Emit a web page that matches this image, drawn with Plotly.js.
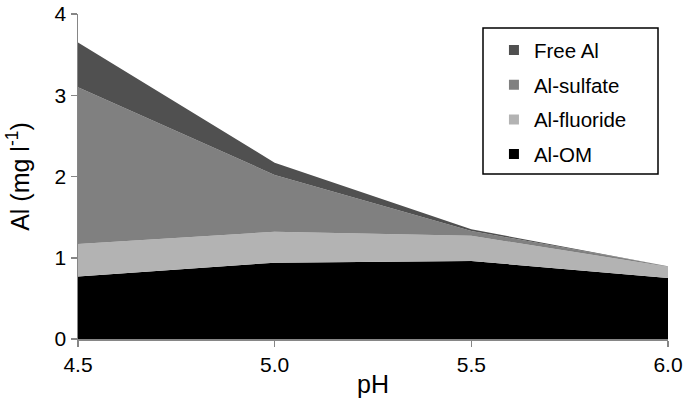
<!DOCTYPE html>
<html>
<head>
<meta charset="utf-8">
<script src="https://cdn.plot.ly/plotly-3.0.1.min.js"></script>
<style>html,body{margin:0;padding:0;background:#fff;}#chart{width:685px;height:411px;}</style>
</head>
<body>
<div id="chart"></div>
<script>
const pH = [4.5, 5.0, 5.5, 6.0];
const alOM = [0.77, 0.94, 0.96, 0.75];
const alFluoride = [0.40, 0.38, 0.31, 0.14];
const alSulfate = [1.93, 0.70, 0.06, 0.005];
const freeAl = [0.55, 0.15, 0.02, 0.0];
const seriesNames = ['Al-OM', 'Al-fluoride', 'Al-sulfate', 'Free Al'];
const seriesColors = ['#000000', '#b3b3b3', '#808080', '#505050'];
const xTicks = [4.5, 5.0, 5.5, 6.0];
const xTickLabels = ['4.5', '5.0', '5.5', '6.0'];
const yTicks = [0, 1, 2, 3, 4];

const seriesData = [alOM, alFluoride, alSulfate, freeAl];
const traces = [];
seriesData.forEach((vals, i) => {
  traces.push({
    x: pH, y: vals, type: 'scatter', mode: 'none', stackgroup: 'one',
    fill: i === 0 ? 'tozeroy' : 'tonexty',
    fillcolor: seriesColors[i], line: {width: 0, color: seriesColors[i]},
    name: seriesNames[i], showlegend: false, hoverinfo: 'skip'
  });
});
for (let i = seriesData.length - 1; i >= 0; i--) {
  traces.push({
    x: [null], y: [null], type: 'scatter', mode: 'markers',
    marker: {symbol: 'square', size: 10, color: seriesColors[i]},
    name: seriesNames[i], showlegend: true, legendgroup: 'g' + i
  });
}

const layout = {
  width: 685, height: 411,
  margin: {l: 78, r: 17, t: 14, b: 72},
  paper_bgcolor: '#ffffff', plot_bgcolor: '#ffffff',
  font: {family: 'Liberation Sans, Arial, sans-serif', color: '#000000', size: 21},
  showlegend: true,
  xaxis: {
    range: [4.5, 6.0], tickvals: xTicks, ticktext: xTickLabels,
    showgrid: false, zeroline: false, showline: true, linecolor: '#868686', linewidth: 1.5,
    ticks: 'outside', ticklen: 6, tickcolor: '#868686', tickwidth: 1.5,
    tickfont: {size: 21, color: '#000'},
    title: {text: 'pH', font: {size: 25, color: '#000'}, standoff: 1}
  },
  yaxis: {
    range: [0, 4], tickvals: yTicks,
    showgrid: false, zeroline: false, showline: true, linecolor: '#868686', linewidth: 1.5,
    ticks: 'outside', ticklen: 6, tickcolor: '#868686', tickwidth: 1.5,
    tickfont: {size: 21, color: '#000'},
    title: {text: 'Al (mg l<sup>-1</sup>)', font: {size: 25, color: '#000'}, standoff: 18}
  },
  legend: {
    x: 0.705, y: 0.95, xanchor: 'left', yanchor: 'top',
    traceorder: 'grouped', tracegroupgap: 5,
    bgcolor: 'rgba(0,0,0,0)', borderwidth: 0,
    font: {size: 20.5, color: '#000'}
  },
  shapes: [{
    type: 'rect', xref: 'paper', yref: 'paper',
    x0: (483 - 78) / 590, x1: (658 - 78) / 590,
    y0: (339 - 174) / 325, y1: (339 - 28) / 325,
    line: {color: '#000', width: 1.5}, fillcolor: 'rgba(0,0,0,0)'
  }]
};

Plotly.newPlot('chart', traces, layout, {displayModeBar: false, staticPlot: true});
</script>
</body>
</html>
